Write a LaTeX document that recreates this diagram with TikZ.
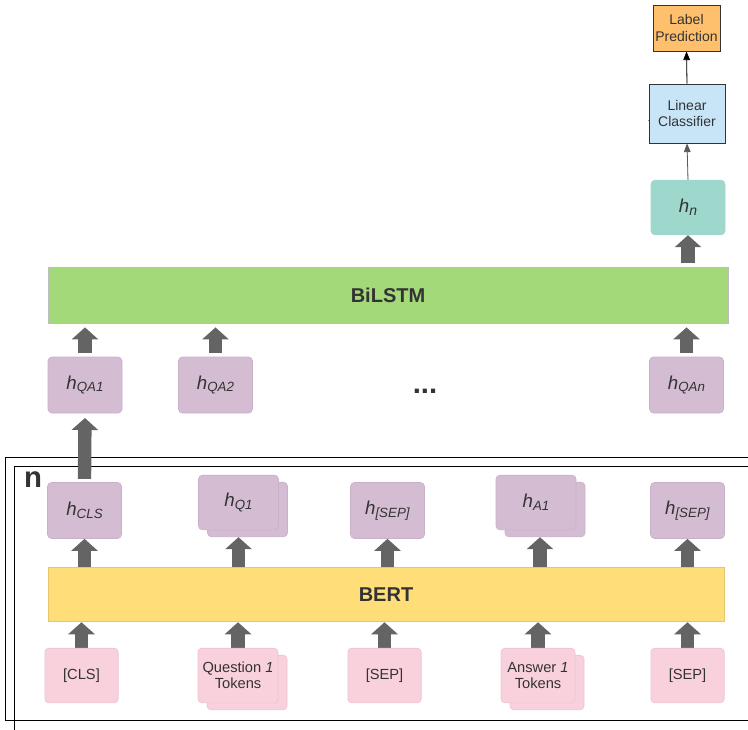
\documentclass[tikz,border=0pt]{standalone}
\usepackage{fontspec}
\setmainfont{Liberation Sans}
\usepackage{tikz}
\usetikzlibrary{arrows.meta}
\definecolor{hpurple}{HTML}{D4BCD3}
\definecolor{hedge}{HTML}{C9B2C8}
\definecolor{tpink}{HTML}{F9D1DD}
\definecolor{tedge}{HTML}{EBC3CF}
\definecolor{bertyel}{HTML}{FFDE7A}
\definecolor{bertedge}{HTML}{E6C66A}
\definecolor{lstmgreen}{HTML}{A4D97A}
\definecolor{lstmedge}{HTML}{BDBDBD}
\definecolor{hnteal}{HTML}{9ED8CC}
\definecolor{lcblue}{HTML}{C7E5F7}
\definecolor{lporange}{HTML}{FFC06E}
\definecolor{fatgray}{HTML}{646464}
\definecolor{textgray}{HTML}{333333}
\tikzstyle{hbox}=[rectangle,rounded corners=3pt,fill=hpurple,draw=hedge,line width=0.5pt,minimum width=55.5pt,minimum height=42pt,inner sep=0pt,text=textgray,font=\fontsize{14}{16}\selectfont]
\tikzstyle{hwide}=[hbox,minimum width=60pt,minimum height=41pt]
\tikzstyle{token}=[rectangle,rounded corners=3pt,fill=tpink,draw=tedge,line width=0.5pt,minimum width=55pt,minimum height=41pt,inner sep=0pt,align=center,text=textgray,font=\fontsize{11}{12}\selectfont]
\tikzstyle{layer}=[rectangle,line width=0.6pt,minimum height=42pt,inner sep=0pt,text=textgray,font=\fontsize{15}{17}\selectfont\bfseries]
\tikzstyle{topbox}=[rectangle,draw=textgray,line width=0.6pt,inner sep=0pt,align=center,text=textgray,font=\fontsize{10.5}{12.5}\selectfont]
\tikzstyle{none}=[inner sep=0pt]
\tikzstyle{fatarrow}=[-{Triangle[width=19.5pt,length=9pt]},draw=fatgray,fill=fatgray,line width=10pt]
\tikzstyle{thinarrow}=[-{Triangle[width=5pt,length=6.5pt]},line width=0.6pt]
\tikzstyle{plate}=[draw=black,line width=0.7pt]
\newcommand{\hlab}[1]{\textit{h}\raisebox{-2pt}{\fontsize{10}{11}\selectfont\textit{#1}}}
\pgfdeclarelayer{edgelayer}
\pgfdeclarelayer{nodelayer}
\pgfsetlayers{edgelayer,nodelayer,main}
\begin{document}
\begin{tikzpicture}[x=0.75pt,y=-0.75pt]
	\clip (0,0) rectangle (748,729);
	\begin{pgfonlayer}{nodelayer}
		\node [style=topbox, fill=lporange, minimum width=50.25pt, minimum height=34.5pt] (lp) at (686.5, 28) {Label\\Prediction};
		\node [style=topbox, fill=lcblue, minimum width=57pt, minimum height=44.25pt] (lc) at (687, 113.5) {Linear\\Classifier};
		\node [style=hbox, fill=hnteal, draw=hnteal, minimum height=41pt] (hn) at (688, 207.5) {\textit{h}\raisebox{-2pt}{\fontsize{10.5}{11}\selectfont\textit{n}}};
		\node [style=layer, fill=lstmgreen, draw=lstmedge, minimum width=510pt] (lstm) at (388, 295) {BiLSTM};

		\node [style=hbox] (hqa1) at (85, 385) {\hlab{QA1}};
		\node [style=hbox] (hqa2) at (215.5, 385) {\hlab{QA2}};
		\node [style=none, anchor=base, text=textgray, font=\fontsize{22}{24}\selectfont\bfseries] (dots) at (425, 393) {...};
		\node [style=hbox] (hqan) at (686.5, 385) {\hlab{QAn}};

		\node [style=none, text=textgray, font=\fontsize{22}{24}\selectfont\bfseries] (n) at (33, 480) {n};

		\node [style=hbox] (hcls) at (84.5, 510.5) {\hlab{CLS}};
		\node [style=hwide] (hq1b) at (247.5, 509.5) {};
		\node [style=hwide] (hq1) at (238.5, 502.5) {\hlab{Q1}};
		\node [style=hbox] (hsep1) at (387.5, 510.5) {\hlab{[SEP]}};
		\node [style=hwide] (ha1b) at (545, 509.5) {};
		\node [style=hwide] (ha1) at (536, 502.5) {\hlab{A1}};
		\node [style=hbox] (hsep2) at (687.5, 510.5) {\hlab{[SEP]}};

		\node [style=layer, fill=bertyel, draw=bertedge, minimum width=507pt, minimum height=41pt] (bert) at (386, 594.5) {BERT};

		\node [style=token] (tcls) at (81.5, 675.5) {[CLS]};
		\node [style=token, minimum width=60pt] (tqb) at (247, 682.5) {};
		\node [style=token, minimum width=60pt] (tq) at (238, 675.5) {Question \textit{1}\\Tokens};
		\node [style=token] (tsep1) at (384.5, 675.5) {[SEP]};
		\node [style=token, minimum width=55.5pt] (tab) at (547, 682.5) {};
		\node [style=token, minimum width=55.5pt] (ta) at (538, 675.5) {Answer \textit{1}\\Tokens};
		\node [style=token] (tsep2) at (687.5, 675.5) {[SEP]};
	\end{pgfonlayer}
	\begin{pgfonlayer}{edgelayer}
		% plate round the BERT part
		\draw [style=plate] (790, 457) -- (5, 457) -- (5, 720) -- (790, 720);
		\draw [style=plate] (790, 466) -- (14, 466) -- (14, 760);

		\draw [style=thinarrow, draw=black, fill=black] (lc.north) to (lp.south);
		\draw [style=thinarrow, draw=black!65, fill=black] (hn.north) to (lc.south);
		\draw [line width=0.6pt] ([yshift=-5pt]lc.west) -- (lc.south) -- ([yshift=-3.5pt]lc.east);

		\draw [style=fatarrow, shorten <=3pt] (hn.south |- lstm.north) to (hn.south);
		\draw [style=fatarrow, shorten <=2.5pt, shorten >=3pt] (hqa1.north) to (hqa1.north |- lstm.south);
		\draw [style=fatarrow, shorten <=2.5pt, shorten >=3pt] (hqa2.north) to (hqa2.north |- lstm.south);
		\draw [style=fatarrow, shorten <=2.5pt, shorten >=3pt] (hqan.north) to (hqan.north |- lstm.south);
		\draw [style=fatarrow, shorten <=2.5pt, shorten >=3.5pt] (hcls.north) to (hqa1.south);

		\draw [style=fatarrow] (hcls.south |- bert.north) to (hcls.south);
		\draw [style=fatarrow] (hq1.south |- bert.north) to (hq1.south |- hq1b.south);
		\draw [style=fatarrow] (hsep1.south |- bert.north) to (hsep1.south);
		\draw [style=fatarrow] ([xshift=3pt]ha1.south |- bert.north) to ([xshift=3pt]ha1.south |- ha1b.south);
		\draw [style=fatarrow] (hsep2.south |- bert.north) to (hsep2.south);

		\draw [style=fatarrow] (tcls.north) to (tcls.north |- bert.south);
		\draw [style=fatarrow] (tq.north) to (tq.north |- bert.south);
		\draw [style=fatarrow] (tsep1.north) to (tsep1.north |- bert.south);
		\draw [style=fatarrow] (ta.north) to (ta.north |- bert.south);
		\draw [style=fatarrow] (tsep2.north) to (tsep2.north |- bert.south);
	\end{pgfonlayer}
\end{tikzpicture}
\end{document}
